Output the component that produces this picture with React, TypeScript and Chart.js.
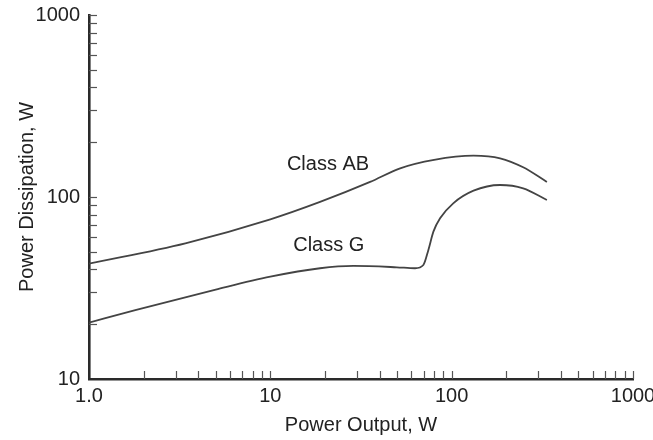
import React, { useEffect, useRef } from 'react';
import { Chart, registerables } from 'chart.js';

Chart.register(...registerables);

// Series data (power output W -> power dissipation W)
const classABOutput = [1, 3.4, 10, 18.8, 35.5, 52, 80, 132, 185, 248, 335];
const classABDissipation = [43, 55.7, 75.4, 94, 121, 143.8, 160, 168.6, 163.2, 145.6, 121];

const classGOutput = [1, 1.8, 5, 10, 18.8, 28.7, 49.8, 62.8, 69.8, 74.4, 79.3, 86.3, 102, 132, 185, 248, 335];
const classGDissipation = [20.4, 23.9, 31, 36.5, 40.6, 41.8, 41.1, 40.6, 42.3, 51.2, 64.5, 76.4, 92.3, 108.3, 116.4, 111.6, 96.3];

// Axis ticks
const xDecades = [1, 10, 100];
const yDecades = [10, 100];
const tickMultipliers = [1, 2, 3, 4, 5, 6, 7, 8, 9];
const xMax = 1000;
const yMax = 1000;
const xLabelValues = [1, 10, 100, 1000];
const xLabelTexts = ['1.0', '10', '100', '1000'];
const yLabelValues = [10, 100, 1000];
const yLabelTexts = ['10', '100', '1000'];

// Curve annotations
const curveNames = ['Class AB', 'Class G'];
const curveNameX = [20.8, 21];
const curveNameY = [150, 54];

const FONT = "'Liberation Sans', Arial, Helvetica, sans-serif";
const FONT_SIZE = 20;
const TEXT = '#222';
const AXIS = '#2a2a2a';
const LINE = '#444';

function buildTicks(decades: number[], max: number) {
  const vals: number[] = [];
  decades.forEach((d) => tickMultipliers.forEach((m) => vals.push(d * m)));
  vals.push(max);
  return vals.map((v) => ({ value: v }));
}

const inwardTicks = {
  id: 'inwardTicks',
  afterDatasetsDraw(chart: any) {
    const { ctx, chartArea, scales } = chart;
    ctx.save();
    ctx.strokeStyle = '#555';
    ctx.lineWidth = 1.2;
    const len = 8;
    scales.x.ticks.forEach((t: any) => {
      const px = Math.round(scales.x.getPixelForValue(t.value)) + 0.5;
      if (px < chartArea.left + 2) return;
      ctx.beginPath();
      ctx.moveTo(px, chartArea.bottom);
      ctx.lineTo(px, chartArea.bottom - len);
      ctx.stroke();
    });
    scales.y.ticks.forEach((t: any) => {
      const py = Math.round(scales.y.getPixelForValue(t.value)) + 0.5;
      if (py > chartArea.bottom - 2) return;
      ctx.beginPath();
      ctx.moveTo(chartArea.left, py);
      ctx.lineTo(chartArea.left + len, py);
      ctx.stroke();
    });
    // curve names
    ctx.fillStyle = TEXT;
    ctx.font = `${FONT_SIZE}px ${FONT}`;
    ctx.textAlign = 'center';
    ctx.textBaseline = 'middle';
    curveNames.forEach((n, i) => {
      ctx.fillText(n, scales.x.getPixelForValue(curveNameX[i]), scales.y.getPixelForValue(curveNameY[i]));
    });
    ctx.restore();
  },
};

export default function App() {
  const ref = useRef<HTMLCanvasElement | null>(null);

  useEffect(() => {
    if (!ref.current) return;
    const chart = new Chart(ref.current, {
      type: 'line',
      data: {
        datasets: [
          {
            label: 'Class AB',
            data: classABOutput.map((x, i) => ({ x, y: classABDissipation[i] })),
            borderColor: LINE,
            borderWidth: 1.8,
            pointRadius: 0,
            cubicInterpolationMode: 'monotone',
            fill: false,
          },
          {
            label: 'Class G',
            data: classGOutput.map((x, i) => ({ x, y: classGDissipation[i] })),
            borderColor: LINE,
            borderWidth: 1.8,
            pointRadius: 0,
            cubicInterpolationMode: 'monotone',
            fill: false,
          },
        ],
      },
      options: {
        responsive: false,
        animation: false,
        layout: { padding: { top: 15, right: 20, bottom: 0, left: 0 } },
        plugins: { legend: { display: false }, tooltip: { enabled: false } },
        scales: {
          x: {
            type: 'logarithmic',
            min: 1,
            max: xMax,
            afterBuildTicks: (s: any) => {
              s.ticks = buildTicks(xDecades, xMax);
            },
            afterFit: (s: any) => {
              s.height = 61;
              s.paddingLeft = 0;
              s.paddingRight = 0;
            },
            grid: { display: true, drawOnChartArea: false, drawTicks: false },
            border: { display: true, color: AXIS, width: 2.6 },
            ticks: {
              autoSkip: false,
              maxRotation: 0,
              padding: 5,
              color: TEXT,
              font: { family: FONT, size: FONT_SIZE },
              callback: (v: any) => {
                const i = xLabelValues.indexOf(Number(v));
                return i >= 0 ? xLabelTexts[i] : '';
              },
            },
            title: {
              display: true,
              text: 'Power Output, W',
              color: TEXT,
              font: { family: FONT, size: FONT_SIZE },
              padding: { top: 0, bottom: 3 },
            },
          },
          y: {
            type: 'logarithmic',
            min: 10,
            max: yMax,
            afterBuildTicks: (s: any) => {
              s.ticks = buildTicks(yDecades, yMax);
            },
            afterFit: (s: any) => {
              s.width = 89;
              s.paddingTop = 0;
              s.paddingBottom = 0;
            },
            grid: { display: true, drawOnChartArea: false, drawTicks: false },
            border: { display: true, color: AXIS, width: 2.6 },
            ticks: {
              autoSkip: false,
              padding: 9,
              color: TEXT,
              font: { family: FONT, size: FONT_SIZE },
              callback: (v: any) => {
                const i = yLabelValues.indexOf(Number(v));
                return i >= 0 ? yLabelTexts[i] : '';
              },
            },
            title: {
              display: true,
              text: 'Power Dissipation, W',
              color: TEXT,
              font: { family: FONT, size: FONT_SIZE },
              padding: { top: 15, bottom: 0 },
            },
          },
        },
      },
      plugins: [inwardTicks],
    });
    return () => chart.destroy();
  }, []);

  return (
    <div style={{ position: 'absolute', left: 0, top: 0, width: 653, height: 440, background: '#fff' }}>
      <canvas ref={ref} width={653} height={440} style={{ display: 'block' }} />
    </div>
  );
}
